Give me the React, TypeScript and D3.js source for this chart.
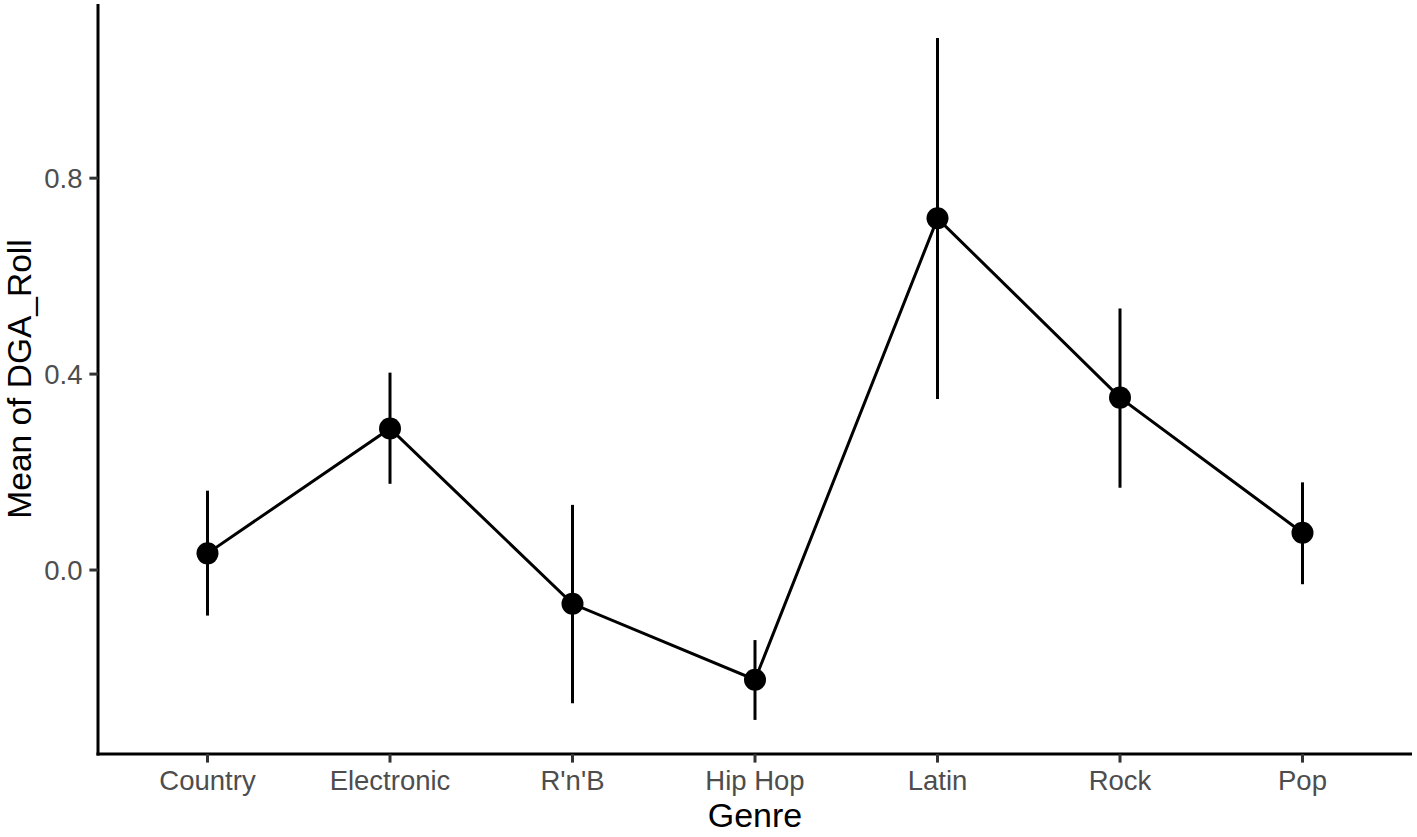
import React from "react";
import * as d3 from "d3";

const genres = ["Country", "Electronic", "R'n'B", "Hip Hop", "Latin", "Rock", "Pop"];
const means = [0.034, 0.289, -0.069, -0.224, 0.718, 0.352, 0.076];
const upper = [0.162, 0.403, 0.133, -0.143, 1.086, 0.534, 0.179];
const lower = [-0.093, 0.176, -0.272, -0.306, 0.349, 0.168, -0.029];
const yTicks = [0.0, 0.4, 0.8];

const W = 1417;
const H = 837;
const left = 98;
const right = 1412;
const top = 4;
const bottom = 754;
const FONT = "'Liberation Sans', Arial, Helvetica, sans-serif";

export default function App() {
  const x = d3.scalePoint<string>().domain(genres).range([left, right]).padding(0.6);
  const lo = d3.min(lower) as number;
  const hi = d3.max(upper) as number;
  const pad = (hi - lo) * 0.05;
  const y = d3.scaleLinear().domain([lo - pad, hi + pad]).range([bottom, top]);

  const data = genres.map((g, i) => ({ g, m: means[i], u: upper[i], l: lower[i] }));
  const line = d3
    .line<{ g: string; m: number }>()
    .x((d) => x(d.g) as number)
    .y((d) => y(d.m));

  const tickLen = 8.6;
  const stroke = 3;

  return (
    <svg
      width={W}
      height={H}
      style={{ position: "absolute", left: 0, top: 0, display: "block", background: "#fff" }}
    >
      <rect x={0} y={0} width={W} height={H} fill="#fff" />
      {data.map((d) => (
        <line
          key={"e" + d.g}
          x1={x(d.g)}
          x2={x(d.g)}
          y1={y(d.u)}
          y2={y(d.l)}
          stroke="#000"
          strokeWidth={stroke}
        />
      ))}
      <path d={line(data) || ""} fill="none" stroke="#000" strokeWidth={stroke} />
      {data.map((d) => (
        <circle key={"p" + d.g} cx={x(d.g)} cy={y(d.m)} r={11} fill="#000" />
      ))}

      <line x1={left} x2={left} y1={top} y2={bottom + stroke / 2} stroke="#000" strokeWidth={stroke} />
      <line x1={left - stroke / 2} x2={right} y1={bottom} y2={bottom} stroke="#000" strokeWidth={stroke} />

      {yTicks.map((t) => (
        <g key={"yt" + t}>
          <line x1={left - tickLen} x2={left} y1={y(t)} y2={y(t)} stroke="#333" strokeWidth={stroke} />
          <text
            x={left - tickLen - 6.9}
            y={y(t) + 9.8}
            textAnchor="end"
            fontFamily={FONT}
            fontSize={27.5}
            fill="#4D4D4D"
          >
            {t.toFixed(1)}
          </text>
        </g>
      ))}

      {genres.map((g) => (
        <g key={"xt" + g}>
          <line x1={x(g)} x2={x(g)} y1={bottom} y2={bottom + tickLen} stroke="#333" strokeWidth={stroke} />
          <text
            x={x(g)}
            y={790}
            textAnchor="middle"
            fontFamily={FONT}
            fontSize={27.5}
            fill="#4D4D4D"
          >
            {g}
          </text>
        </g>
      ))}

      <text x={(left + right) / 2} y={827} textAnchor="middle" fontFamily={FONT} fontSize={34} fill="#000">
        Genre
      </text>
      <text
        transform={`translate(30.5, ${(top + bottom) / 2}) rotate(-90)`}
        textAnchor="middle"
        fontFamily={FONT}
        fontSize={33.5}
        fill="#000"
      >
        Mean of DGA_Roll
      </text>
    </svg>
  );
}
